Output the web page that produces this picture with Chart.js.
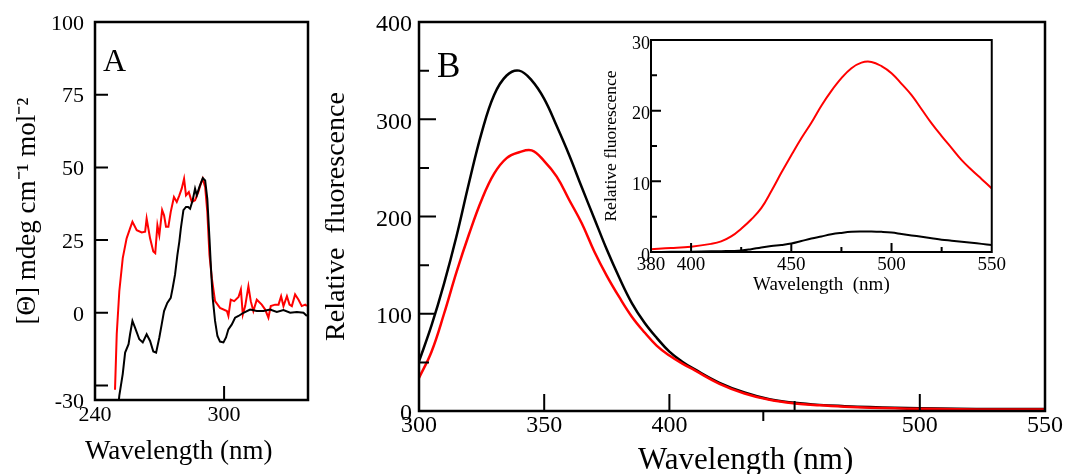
<!DOCTYPE html>
<html>
<head>
<meta charset="utf-8">
<script src="https://cdn.jsdelivr.net/npm/chart.js@4.4.1/dist/chart.umd.min.js"></script>
<style>
  body { margin: 0; background: #fff; }
  #wrap { position: relative; width: 1066px; height: 474px; overflow: hidden; }
  canvas { position: absolute; }
  .lbl { position: absolute; font-family: "Liberation Serif", "Times New Roman", serif; color: #000; line-height: 1; white-space: nowrap; }
</style>
</head>
<body>
<div id="wrap">
  <canvas id="cdChart" width="320" height="474" style="left:0;top:0"></canvas>
  <canvas id="flChart" width="746" height="474" style="left:320px;top:0"></canvas>
  <canvas id="insetChart" width="410" height="275" style="left:600px;top:28px"></canvas>
  <div class="lbl" style="left:103px;top:44px;font-size:32px">A</div>
  <div class="lbl" style="left:437px;top:48px;font-size:35px">B</div>
  <div class="lbl" style="left:85px;top:437px;font-size:27px">Wavelength (nm)</div>
  <div class="lbl" style="left:638px;top:443px;font-size:31px">Wavelength (nm)</div>
</div>
<script>
// Panel A - CD spectra
const cdRedWl = [249.3, 250.1, 251.3, 252.9, 254.7, 256.3, 257.4, 259.4, 261.7, 263.3, 264, 265.6, 267.1, 268, 269, 269.9,
  271.2, 272.1, 273, 274.1, 275.2, 276.7, 278, 279.2, 280.3, 281.4, 282.3, 283.6, 285, 286.5, 288, 289.2, 290.1, 291.2,
  292.2, 293.2, 294.3, 295.8, 298.1, 301.3, 302, 303.1, 304.7, 306.7, 307.8, 308.7, 309.8, 311.3, 312.4, 313.6, 315.2,
  317.5, 319.1, 320.6, 321.7, 323.7, 325.3, 326.5, 327.6, 329.2, 330.4, 331.5, 333, 334.6, 336.1, 337.7, 338.5];
const cdRedVal = [-26.5, -7.4, 7.4, 18.8, 25.6, 29, 31.3, 28.4, 27.6, 27.9, 32.4, 25.6, 21.1, 20.5, 30.1, 26.7,
  35.3, 33.5, 29.6, 29.6, 34.7, 39.8, 38.1, 40.4, 42.7, 46.1, 40.4, 41.5, 38.1, 38.7, 41.5, 44.4, 46.1, 43.2,
  34.7, 19.9, 11.9, 4, 1.7, 0.6, -1.1, 4.5, 4, 5.4, 8, -0.6, 2.3, 9.1, 4, 0.6, 4.5,
  2.8, 1.1, -1.7, 2.3, 2.8, 2.8, 5.7, 2.3, 5.7, 2.8, 2.3, 6.3, 4.5, 2.3, 2.8, 2.3];
const cdBlackWl = [250.3, 251.3, 252.9, 254, 255.6, 256.3, 257.4, 258.6, 260.6, 262.2, 264, 265.6, 267.1, 268.4, 269.9,
  271, 272.1, 273.6, 275.2, 276.1, 277.2, 278.3, 279.2, 279.9, 281.1, 282.3, 283.3, 284.2, 285.4, 286.5, 287.3, 288.5,
  290.1, 291.2, 292.2, 293.2, 293.9, 294.7, 295.8, 296.9, 298.1, 299.7, 300.9, 302, 303.6, 305.1, 306.7, 309, 312.1,
  315.2, 318.3, 321.4, 324.5, 327.6, 330.7, 333.8, 336.9, 338.5];
const cdBlackVal = [-36, -28.5, -21, -13.7, -10.8, -7.4, -2.8, -5.1, -9.1, -10.2, -7.4, -9.7, -13.3, -13.7, -8.5,
  -4, 0.6, 3.4, 5.1, 8.5, 13.1, 19.9, 24.5, 29, 35.3, 36.4, 36.4, 35.8, 38.7, 42.7, 40.4, 43.2,
  46.3, 45.5, 39.2, 25.6, 15.4, 5.1, -2.8, -8, -9.9, -10.2, -8.5, -5.7, -4, -1.7, -1.1, 0, 1.1,
  0.6, 0.6, 1.1, 0.3, 0.9, 0, 0.3, 0, -1.1];
const cdYTicks = [-30, 0, 25, 50, 75, 100];
const cdXTicks = [240, 300];

// Panel B - fluorescence emission
const flWl = [300, 305, 310, 315, 320, 325, 330, 335, 340, 345, 350, 355, 360, 365, 370, 375, 380, 385, 390, 395,
  400, 405, 410, 420, 430, 440, 450, 460, 470, 480, 490, 500, 515, 530, 550];
const flBlack = [51, 88, 131, 180, 235, 286, 325, 345, 350, 340, 321, 293, 263, 230, 198, 166, 137, 111, 91, 75,
  61, 51, 43, 29, 19, 12, 8.5, 6.3, 5, 4, 3.3, 2.8, 2.3, 2, 2];
const flRed = [34, 61, 100, 143, 182, 217, 244, 260, 266, 268, 257, 241, 217, 193, 164, 139, 117, 97, 81, 67,
  57, 49, 42, 28, 18, 11.5, 7.8, 5.8, 4.4, 3.4, 2.7, 2.2, 1.8, 1.5, 1.5];
const flYTicks = [0, 100, 200, 300, 400];
const flXTicks = [300, 350, 400, 500, 550];

// Inset - long wavelength emission
const inWl = [380, 390, 400, 410, 415, 420, 425, 430, 435, 440, 445, 450, 455, 460, 465, 470, 475, 480, 485, 490,
  495, 500, 505, 510, 515, 520, 525, 530, 535, 540, 545, 550];
const inRed = [0.4, 0.55, 0.75, 1.15, 1.5, 2.2, 3.3, 4.6, 6.2, 8.6, 11.2, 13.7, 16.1, 18.3, 20.7, 22.8, 24.6, 26, 26.8, 26.9,
  26.3, 25.3, 23.8, 22.2, 20.2, 18.2, 16.4, 14.7, 13, 11.6, 10.3, 9];
const inBlack = [0, 0.02, 0.05, 0.1, 0.12, 0.15, 0.2, 0.4, 0.65, 0.85, 1, 1.2, 1.55, 1.9, 2.2, 2.5, 2.7, 2.85, 2.9, 2.9,
  2.85, 2.75, 2.55, 2.35, 2.15, 1.95, 1.75, 1.6, 1.45, 1.3, 1.15, 1];
const inYTicks = [0, 10, 20, 30];
const inXTicks = [380, 400, 450, 500, 550];

const SERIF = '"Liberation Serif", "Times New Roman", Times, serif';
Chart.defaults.color = '#000';

const pts = (xs, ys) => xs.map((x, i) => ({ x: x, y: ys[i] }));

// box around the plot + tick marks pointing inwards
function frameTicks(spec) {
  return {
    id: 'frameTicks',
    afterDatasetsDraw(chart) {
      const { ctx, chartArea: a, scales } = chart;
      ctx.save();
      ctx.strokeStyle = '#000';
      ctx.lineWidth = spec.frame;
      ctx.strokeRect(a.left, a.top, a.right - a.left, a.bottom - a.top);
      ctx.lineWidth = spec.tick;
      ctx.beginPath();
      spec.x.forEach(([v, len]) => {
        const px = scales.x.getPixelForValue(v);
        ctx.moveTo(px, a.bottom);
        ctx.lineTo(px, a.bottom - len);
      });
      spec.y.forEach(([v, len]) => {
        const py = scales.y.getPixelForValue(v);
        ctx.moveTo(a.left, py);
        ctx.lineTo(a.left + len, py);
      });
      ctx.stroke();
      ctx.restore();
    }
  };
}

function axis(min, max, tickVals, fontSize, pad, labelOffset, fit) {
  return {
    type: 'linear',
    min: min,
    max: max,
    afterBuildTicks: s => { s.ticks = tickVals.map(v => ({ value: v })); },
    afterFit: fit,
    grid: { display: false, drawTicks: false },
    border: { display: false },
    ticks: {
      color: '#000',
      autoSkip: false,
      maxRotation: 0,
      padding: pad,
      labelOffset: labelOffset,
      font: { family: SERIF, size: fontSize, lineHeight: 1 }
    }
  };
}

const baseOpts = {
  responsive: false,
  animation: false,
  events: [],
  plugins: { legend: { display: false }, tooltip: { enabled: false } },
  elements: { point: { radius: 0 } }
};

// Panel A
const cdX = axis(240, 339, cdXTicks, 22, 4, 0, s => { s.height = 74; });
const cdY = axis(-30, 100, cdYTicks, 22, 11, 2, s => { s.width = 95; });
cdY.title = { display: true, text: '[Θ] mdeg cm⁻¹ mol⁻²', color: '#000',
  font: { family: SERIF, size: 27, lineHeight: 1 }, padding: { top: 14, bottom: 0 } };

new Chart(document.getElementById('cdChart'), {
  type: 'line',
  data: {
    datasets: [
      { data: pts(cdBlackWl, cdBlackVal), borderColor: '#000', borderWidth: 2, tension: 0 },
      { data: pts(cdRedWl, cdRedVal), borderColor: '#ff0000', borderWidth: 2, tension: 0 }
    ]
  },
  options: {
    ...baseOpts,
    layout: { padding: { top: 22, right: 12, left: 0, bottom: 0 } },
    scales: { x: cdX, y: cdY }
  },
  plugins: [frameTicks({
    frame: 2.5, tick: 2,
    x: [[300, 14]],
    y: [[-25, 13], [0, 13], [25, 13], [50, 13], [75, 13]]
  })]
});

// Panel B
const flX = axis(300, 550, flXTicks, 24, 3, 0, s => { s.height = 63; });
const flY = axis(0, 400, flYTicks, 24, 7, 3, s => { s.width = 99; });
flY.title = { display: true, text: 'Relative  fluorescence', color: '#000',
  font: { family: SERIF, size: 28, lineHeight: 1 }, padding: { top: 3, bottom: 0 } };

new Chart(document.getElementById('flChart'), {
  type: 'line',
  data: {
    datasets: [
      { data: pts(flWl, flRed), borderColor: '#ff0000', borderWidth: 2.5, tension: 0.4 },
      { data: pts(flWl, flBlack), borderColor: '#000', borderWidth: 2.5, tension: 0.4 }
    ]
  },
  options: {
    ...baseOpts,
    layout: { padding: { top: 22, right: 17, left: 0, bottom: 0 } },
    scales: { x: flX, y: flY }
  },
  plugins: [frameTicks({
    frame: 2.5, tick: 2,
    x: [[350, 17], [400, 17], [437.5, -10], [450, 10], [500, 17]],
    y: [[50, 10], [100, 17], [150, 10], [200, 17], [250, 10], [300, 17], [350, 10]]
  })]
});

// Inset
const inX = axis(380, 550, inXTicks, 19, 4, 0, s => { s.height = 51; });
inX.title = { display: true, text: 'Wavelength  (nm)', color: '#000',
  font: { family: SERIF, size: 19, lineHeight: 1 }, padding: { top: 0, bottom: 8 } };
const inY = axis(0, 30, inYTicks, 18, 1, 4, s => { s.width = 51; });
inY.title = { display: true, text: 'Relative fluorescence', color: '#000',
  font: { family: SERIF, size: 17.5, lineHeight: 1 }, padding: { top: 3, bottom: 0 } };

new Chart(document.getElementById('insetChart'), {
  type: 'line',
  data: {
    datasets: [
      { data: pts(inWl, inRed), borderColor: '#ff0000', borderWidth: 2, tension: 0.4 },
      { data: pts(inWl, inBlack), borderColor: '#000', borderWidth: 2, tension: 0.4 }
    ]
  },
  options: {
    ...baseOpts,
    layout: { padding: { top: 12, right: 13, left: 0, bottom: 0 } },
    scales: { x: inX, y: inY }
  },
  plugins: [frameTicks({
    frame: 2, tick: 2,
    x: [[400, 9], [425, 5], [450, 9], [475, 5], [500, 9], [525, 5]],
    y: [[5, 6], [10, 10], [15, 6], [20, 10], [25, 6]]
  })]
});
</script>
</body>
</html>
